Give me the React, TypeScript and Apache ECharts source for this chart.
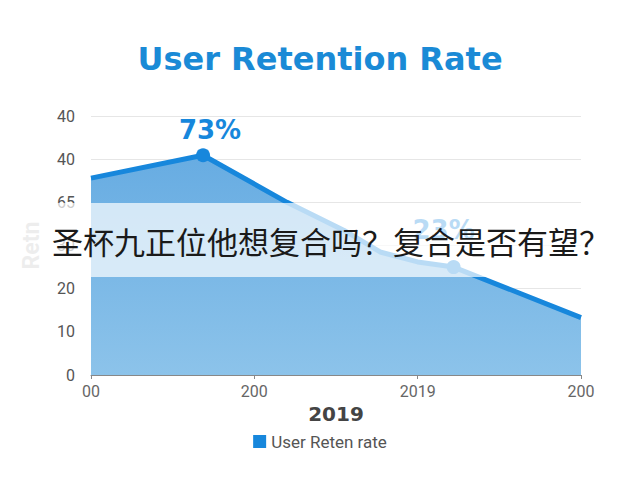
import React, { useEffect, useRef } from 'react'
import * as echarts from 'echarts'

// 数据
const xTickLabels = ['00', '200', '2019', '200']
const yTickLabels = ['0', '10', '20', '30', '65', '40', '40']
const pointX = [0, 0.686, 1.2, 1.55, 1.77, 2.0, 2.22, 3]
const pointY = [45.6, 50.9, 40, 33.5, 28.5, 26.2, 25, 13.3]
const pointLabels = ['', '73%', '', '', '', '', '23%', '']
const seriesName = 'User Reten rate'
const bannerText = '圣杯九正位他想复合吗？复合是否有望？'

const BLUE = '#1787dc'

const App: React.FC = () => {
  const chartRef = useRef<HTMLDivElement>(null)

  useEffect(() => {
    if (!chartRef.current) return
    const chart = echarts.init(chartRef.current, undefined, { renderer: 'svg' })

    const data = pointX.map((x, i) => {
      const label = pointLabels[i]
      if (!label) return { value: [x, pointY[i]], symbol: 'none' }
      return {
        value: [x, pointY[i]],
        symbol: 'circle',
        symbolSize: 14,
        label: {
          show: true,
          position: 'top',
          formatter: label,
          offset: i === 1 ? [7, 0] : [-10, -12],
        },
      }
    })

    const option = {
      animation: false,
      title: {
        text: 'User Retention Rate',
        left: 'center',
        top: 38,
        textStyle: {
          color: '#1a8ad6',
          fontSize: 32,
          fontWeight: 'bold',
          fontFamily: 'DejaVu Sans',
        },
      },
      legend: {
        data: [seriesName],
        bottom: 25,
        left: 'center',
        icon: 'rect',
        itemWidth: 13,
        itemHeight: 13,
        itemGap: 8,
        textStyle: { color: '#555', fontSize: 17, fontFamily: 'Roboto' },
      },
      grid: { left: 91, right: 59, top: 116, bottom: 105 },
      xAxis: {
        type: 'value',
        min: 0,
        max: 3,
        interval: 1,
        name: '2019',
        nameLocation: 'middle',
        nameGap: 22,
        nameTextStyle: { color: '#444', fontSize: 20, fontWeight: 'bold', fontFamily: 'DejaVu Sans' },
        axisLine: { show: true, lineStyle: { color: '#888' } },
        axisTick: { show: true, length: 4, lineStyle: { color: '#888' } },
        axisLabel: {
          color: '#666',
          fontSize: 16,
          fontFamily: 'Roboto',
          margin: 8,
          formatter: (v: number) => xTickLabels[Math.round(v)] ?? '',
        },
        splitLine: { show: false },
      },
      yAxis: {
        type: 'value',
        min: 0,
        max: 60,
        interval: 10,
        name: 'Retn',
        nameLocation: 'middle',
        nameGap: 48,
        nameTextStyle: { color: '#c4c4c4', fontSize: 23, fontWeight: 'bold', fontFamily: 'Roboto' },
        axisLine: { show: false },
        axisTick: { show: false },
        axisLabel: {
          color: '#555',
          fontSize: 16,
          fontFamily: 'Roboto',
          margin: 16,
          formatter: (v: number) => yTickLabels[Math.round(v / 10)] ?? '',
        },
        splitLine: { lineStyle: { color: '#e6e6e6' } },
      },
      series: [
        {
          name: seriesName,
          type: 'line',
          data,
          itemStyle: { color: BLUE },
          lineStyle: { color: BLUE, width: 5 },
          label: {
            color: BLUE,
            fontSize: 26,
            fontWeight: 'bold',
            fontFamily: 'DejaVu Sans',
          },
          areaStyle: {
            color: new echarts.graphic.LinearGradient(0, 0, 0, 1, [
              { offset: 0, color: '#67ace2' },
              { offset: 1, color: '#8cc3ea' },
            ]),
            opacity: 1,
          },
        },
      ],
      graphic: [
        {
          type: 'rect',
          z: 100,
          shape: { x: 0, y: 203, width: 640, height: 74 },
          style: { fill: 'rgba(255,255,255,0.7)' },
        },
        {
          type: 'text',
          z: 101,
          x: 331,
          y: 240,
          style: {
            text: bannerText,
            fill: '#1a1a1a',
            fontSize: 31,
            fontFamily: 'Noto Sans CJK SC',
            align: 'center',
            verticalAlign: 'middle',
          },
        },
      ],
    }

    chart.setOption(option as any)

    return () => {
      chart.dispose()
    }
  }, [])

  return (
    <div
      ref={chartRef}
      style={{ position: 'fixed', left: 0, top: 0, width: 640, height: 480, background: '#fff' }}
    />
  )
}

export default App
